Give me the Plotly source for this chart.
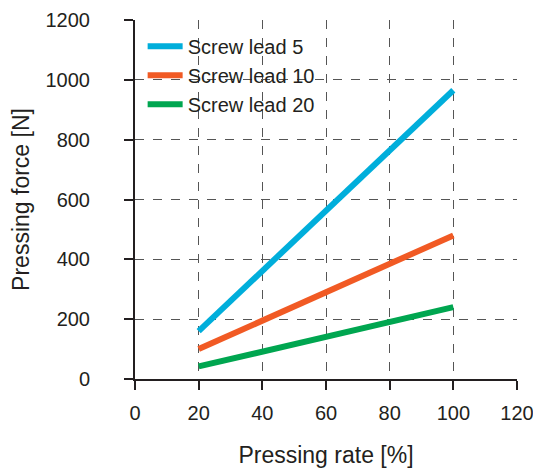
import plotly.graph_objects as go

pressing_rate = [20, 100]
series_names = ["Screw lead 5", "Screw lead 10", "Screw lead 20"]
force_lead5 = [160, 965]
force_lead10 = [100, 480]
force_lead20 = [42, 240]
colors = ["#00AEDB", "#F15A24", "#00A650"]

fig = go.Figure()
for name, ys, c in zip(series_names, [force_lead5, force_lead10, force_lead20], colors):
    fig.add_trace(go.Scatter(x=pressing_rate, y=ys, mode="lines", name=name,
                             line=dict(color=c, width=6)))

# white boxes behind the legend labels (they hide the grid lines, as in the reference)
label_boxes = [(0.894, 0.964), (0.808, 0.880), (0.727, 0.797)]
for y0, y1 in label_boxes:
    fig.add_shape(type="rect", xref="paper", yref="paper", x0=0.134, x1=0.510,
                  y0=y0, y1=y1, fillcolor="white", line=dict(width=0), layer="between")

font = "Liberation Sans, Arial, sans-serif"
fig.update_layout(
    width=533, height=468,
    margin=dict(l=135, r=16, t=20, b=89, autoexpand=False),
    paper_bgcolor="white", plot_bgcolor="white",
    font=dict(family=font, size=20, color="#231F20"),
    legend=dict(x=0.02, y=0.981, xanchor="left", yanchor="top", itemwidth=35,
                bgcolor="rgba(0,0,0,0)", font=dict(size=20), tracegroupgap=0),
    xaxis=dict(range=[0, 120], tickvals=[0, 20, 40, 60, 80, 100, 120],
               showgrid=True, gridcolor="#555555", griddash="dash", gridwidth=1,
               zeroline=False, showline=True, linecolor="#231F20", linewidth=2,
               ticks="outside", ticklen=9, tickwidth=2, tickcolor="#231F20",
               ticklabelstandoff=6, automargin=False, ticklabeloverflow="allow",
               title=dict(text="Pressing rate [%]", font=dict(size=23), standoff=24)),
    yaxis=dict(range=[0, 1200], tickvals=list(range(0, 1201, 200)),
               showgrid=True, gridcolor="#555555", griddash="dash", gridwidth=1,
               zeroline=False, showline=True, linecolor="#231F20", linewidth=2,
               ticks="outside", ticklen=9, tickwidth=2, tickcolor="#231F20",
               ticklabelstandoff=30, automargin=False, ticklabeloverflow="allow",
               title=dict(text="Pressing force [N]", font=dict(size=23), standoff=9)),
)
fig.write_html("out.html", config={"displayModeBar": False},
               post_script="document.body.style.margin='0';document.body.style.overflow='hidden';")
